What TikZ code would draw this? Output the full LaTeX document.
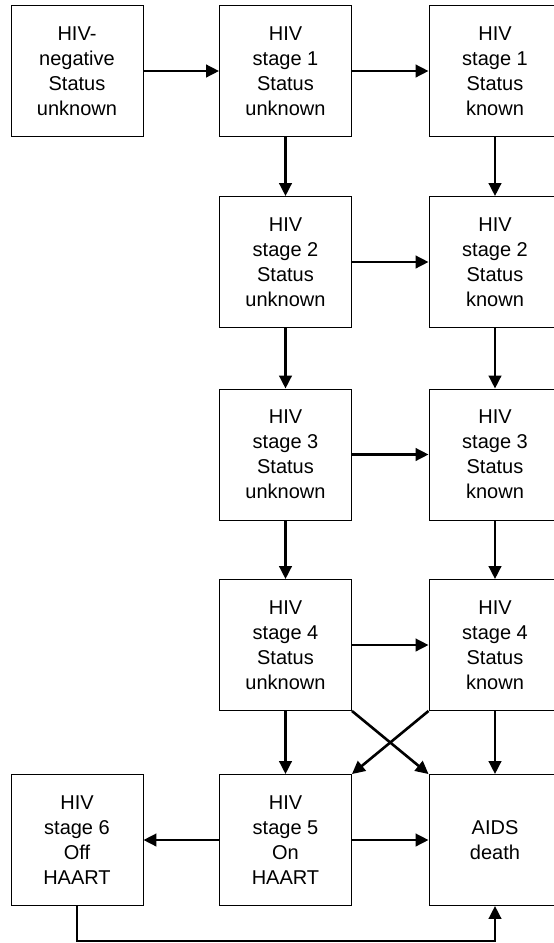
\documentclass[tikz,border=0pt]{standalone}
\usepackage{fontspec}
\setmainfont{Liberation Sans}
\usetikzlibrary{arrows.meta}
\begin{document}
\begin{tikzpicture}[x=1pt,y=-1pt,
  box/.style={draw=black, line width=0.9pt, minimum width=132pt, minimum height=131pt,
    inner sep=0pt, align=center, font=\fontsize{20}{25}\selectfont},
  arr/.style={line width=2.6pt, -{Triangle[length=13pt,width=12.5pt]}}]
\useasboundingbox (0,0) rectangle (554,943);
% column centres 77, 285.5, 495 ; row centres 71, 262, 454.5, 645, 840
\node[box] (neg) at (77,71) {HIV-\\negative\\Status\\unknown};
\node[box] (u1) at (285.5,71) {HIV\\stage 1\\Status\\unknown};
\node[box] (k1) at (495,71) {HIV\\stage 1\\Status\\known};
\node[box] (u2) at (285.5,262) {HIV\\stage 2\\Status\\unknown};
\node[box] (k2) at (495,262) {HIV\\stage 2\\Status\\known};
\node[box] (u3) at (285.5,454.5) {HIV\\stage 3\\Status\\unknown};
\node[box] (k3) at (495,454.5) {HIV\\stage 3\\Status\\known};
\node[box] (u4) at (285.5,645) {HIV\\stage 4\\Status\\unknown};
\node[box] (k4) at (495,645) {HIV\\stage 4\\Status\\known};
\node[box] (s6) at (77,840) {HIV\\stage 6\\Off\\HAART};
\node[box] (s5) at (285.5,840) {HIV\\stage 5\\On\\HAART};
\node[box] (aids) at (495,840) {AIDS\\death};
% horizontal
\draw[arr] (neg) -- (u1);
\draw[arr] (u1) -- (k1);
\draw[arr] (u2) -- (k2);
\draw[arr] (u3) -- (k3);
\draw[arr] (u4) -- (k4);
\draw[arr] (s5) -- (s6);
\draw[arr] (s5) -- (aids);
% vertical
\draw[arr] (u1) -- (u2);
\draw[arr] (u2) -- (u3);
\draw[arr] (u3) -- (u4);
\draw[arr] (u4) -- (s5);
\draw[arr] (k1) -- (k2);
\draw[arr] (k2) -- (k3);
\draw[arr] (k3) -- (k4);
\draw[arr] (k4) -- (aids);
% crossing
\draw[arr] (u4.south east) -- (aids.north west);
\draw[arr] (k4.south west) -- (s5.north east);
% feedback
\coordinate (fb) at (77,941);
\draw[arr] (s6.south) -- (fb) -| (aids.south);
\end{tikzpicture}
\end{document}
